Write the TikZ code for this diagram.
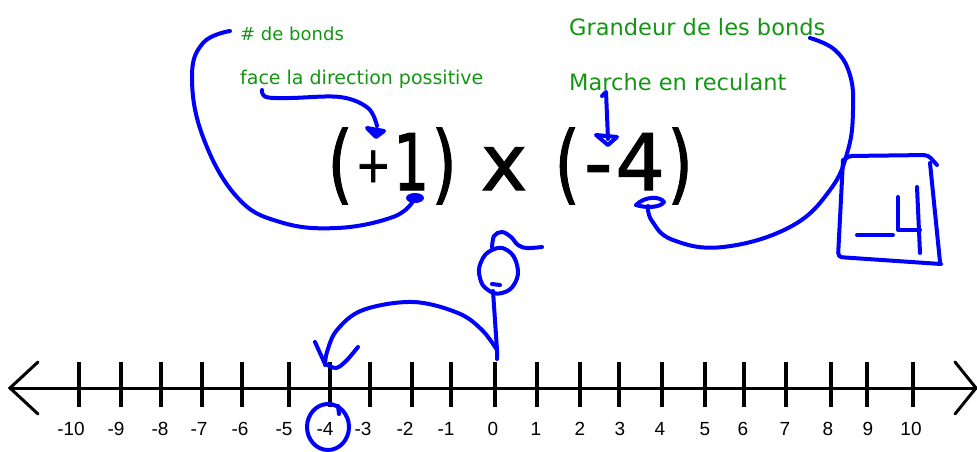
\documentclass[tikz,border=0pt]{standalone}
\usepackage{graphicx}
\usepackage{fontspec}
\setmainfont{Liberation Sans}
\newfontfamily\eqfont[FakeBold=1.5]{DejaVu Sans}
\newfontfamily\notefont{DejaVu Sans}
\definecolor{notegreen}{RGB}{20,150,20}
\definecolor{inkblue}{RGB}{0,0,255}
% #1 box width, #2 font size, #3 raise, #4 horizontal scale, #5 glyph
\newcommand{\eqbox}[5]{\makebox[#1pt]{\fontsize{#2}{#2}\selectfont\raisebox{#3pt}{\scalebox{#4}[1]{#5}}}}
\begin{document}
\begin{tikzpicture}[x=1pt,y=-1pt,
  ink/.style={draw=inkblue,line width=4pt,line cap=round,line join=round},
  tickmark/.style={draw=black,line width=4pt},
  axisline/.style={draw=black,line width=3pt,line cap=round,line join=miter},
  numlab/.style={font=\fontsize{19}{19}\selectfont,anchor=base,inner sep=0pt},
  eqtext/.style={font=\eqfont,anchor=base west,inner sep=0pt},
  eqglyph/.style={font=\eqfont\fontsize{78}{78}\selectfont,anchor=base,inner sep=0pt},
  note/.style={text=notegreen,anchor=base west,inner sep=0pt},
]
\useasboundingbox[fill=white] (0,0) rectangle (977,451);

% number line
\coordinate (lend) at (10,388);
\coordinate (rend) at (976,388);
\draw[axisline] (lend) -- (rend);
\draw[axisline] (38,362) -- (lend) -- (38,414);
\draw[axisline] (955,362) -- (rend) -- (955,414);
\foreach \v/\x/\lx in {-10/79/71,-9/121/116,-8/161/160,-7/202/199,-6/242/240,-5/289/284,-4/330/325,-3/370/363,-2/412/405,-1/451/446,0/495/493,1/537/536,2/580/580,3/619/620,4/662/660,5/705/705,6/744/743,7/786/785,8/831/828,9/867/868,10/913/911}{
  \draw[tickmark] (\x,362) -- (\x,407);
  \node[numlab] (lab\v) at (\lx,435) {\v};
}

% equation (+1) x (-4)
\node[eqtext] (lhs) at (326,190) {\eqbox{28}{86}{-3}{0.75}{(}\eqbox{38}{50}{8}{0.85}{+}\eqbox{38}{78}{0}{0.72}{1}\eqbox{28}{86}{-3}{0.75}{)}};
\node[eqglyph] (times) at (504,190) {x};
\node[eqtext] (rhs) at (552,190) {\eqbox{30}{86}{-3}{0.75}{(}\eqbox{32}{78}{0}{1}{-}\eqbox{52}{78}{0}{1}{4}\eqbox{28}{86}{-3}{0.75}{)}};

% notes
\node[note,font=\notefont\fontsize{18}{18}\selectfont] (bonds) at (240,40) {\# de bonds};
\node[note,font=\notefont\fontsize{19}{19}\selectfont] (face) at (240,84) {face la direction possitive};
\node[note,font=\notefont\fontsize{22.5}{22.5}\selectfont] (grand) at (569,35) {Grandeur de les bonds};
\node[note,font=\notefont\fontsize{22.5}{22.5}\selectfont] (marche) at (569,90) {Marche en reculant};

% blue ink: # de bonds -> 1
\draw[ink] plot[smooth,tension=0.7] coordinates {(230,31) (203,43) (192,77) (203,137) (237,197) (280,222) (337,228) (393,217) (413,201)};
\fill[inkblue] (415,198) ellipse (9 and 5);
% face la direction -> +
\draw[ink] plot[smooth,tension=0.6] coordinates {(262,90) (266,97) (290,98) (340,97) (368,108) (377,126)};
\filldraw[ink,fill=inkblue] (367,128) -- (384,131) -- (376,137) -- cycle;
% Marche -> -
\draw[ink] (602,96) -- (606,92) -- (608,139);
\draw[ink] (596,135) -- (617,137) -- (608,145) -- cycle;
% Grandeur -> 4
\draw[ink] plot[smooth,tension=0.7] coordinates {(810,38) (835,50) (850,75) (853,110) (848,150) (830,190) (790,227) (723,247) (673,240) (652,221) (648,206)};
\draw[ink] (636,205) .. controls (645,196) and (660,196) .. (664,202) .. controls (660,208) and (645,208) .. (636,205);
% box with -4
\draw[ink,rounded corners=4pt] (844,160) -- (848,156) -- (928,155) -- (937,165);
\draw[ink] (930,163) -- (940,262);
\draw[ink,rounded corners=4pt] (941,264) -- (838,257) -- (843,160);
\draw[ink] (857,235) -- (893,235);
\draw[ink] (898,197) -- (898,230) -- (920,230);
\draw[ink] (917,187) -- (920,253);

% figure above 0
\draw[ink] plot[smooth cycle,tension=0.8] coordinates {(492,250) (481,262) (480,278) (488,290) (502,293) (515,283) (517,265) (507,250)};
\draw[ink] (492,284) -- (500,285);
\draw[ink] plot[smooth,tension=0.6] coordinates {(492,248) (494,236) (502,232) (511,237) (518,245) (527,248) (542,247)};
\draw[ink] (493,291) -- (497,350) -- (497,359);

% jump arc from 0 to -4
\draw[ink] plot[smooth,tension=0.6] coordinates {(497,350) (482,330) (458,313) (413,302) (363,310) (337,330) (327,352) (325,365)};
\draw[ink] (315,342) -- (325,364);
\draw[ink] plot[smooth,tension=0.6] coordinates {(326,364) (336,368) (346,361) (358,347)};

% circle round -4
\draw[ink] (328,427) ellipse (21 and 23);
\draw[ink] (338,406) -- (339,414);
\end{tikzpicture}
\end{document}
